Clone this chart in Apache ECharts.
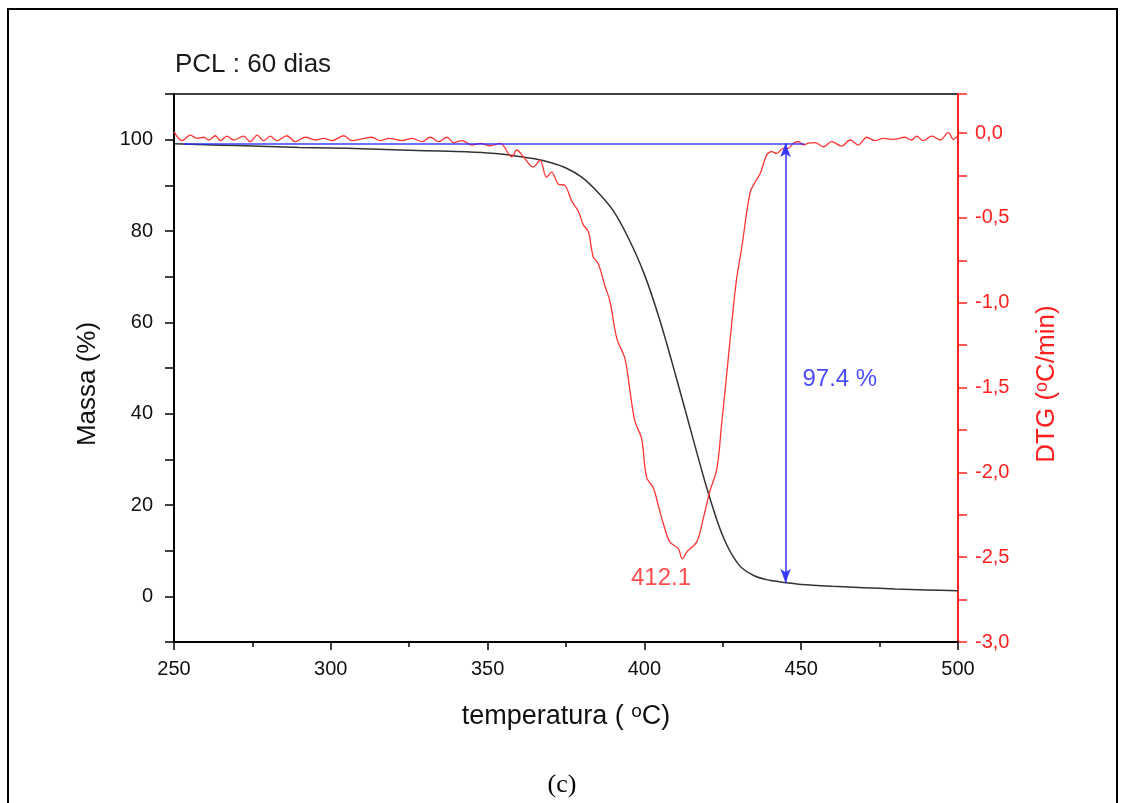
<!DOCTYPE html>
<html>
<head>
<meta charset="utf-8">
<script src="https://cdn.jsdelivr.net/npm/echarts@6/dist/echarts.min.js"></script>
<style>
html,body{margin:0;padding:0;background:#fff;}
#c{width:1124px;height:803px;}
</style>
</head>
<body>
<div id="c"></div>
<script>
// ---- data ----
const titleText = 'PCL : 60 dias';
const captionText = '(c)';
// TG curve (mass %) vs temperature
const massT = [250,260,270,280,290,300,310,320,330,340,350,355,360,365,370,375,380,385,390,395,400,405,410,415,420,425,430,435,440,445,450,460,470,480,490,500];
const massV = [99.1,98.9,98.7,98.5,98.3,98.2,98.0,97.8,97.6,97.4,97.1,96.8,96.3,95.8,95.0,93.8,91.8,88.6,84.5,78.3,70.5,60.3,48.3,35.8,23.5,13.2,7.0,4.5,3.5,3.0,2.6,2.2,1.9,1.6,1.4,1.2];
// DTG curve vs temperature
const dtgT = [250,252.6,255.2,257.3,259.5,261.1,263.2,264.8,266.9,269.0,272.2,274.3,276.5,278.6,280.7,282.8,286.0,288.7,291.9,295.1,297.7,300.4,304.1,306.8,310.0,313.1,315.8,318.5,322.7,325.9,329.1,331.7,334.4,337.0,339.2,341.8,345.0,347.7,350.8,354.0,357.7,359.3,361.4,364.6,366.7,368.8,370.4,372.5,374.7,376.8,378.9,380.5,382.1,383.7,385.3,387.4,389.0,391.2,393.8,395.4,397.0,399.1,400.7,402.8,404.5,406.0,408.1,410.8,412.1,413.5,416.7,418.8,420.9,423.1,424.6,426.2,427.8,429.4,431.0,433.7,435.3,436.9,439.0,440.6,442.2,444.3,445.9,447.5,449.1,450.7,452.3,454.4,457.1,459.7,462.9,465.6,468.2,470.9,473.5,476.2,479.4,483.1,485.2,486.8,488.9,491.6,494.3,496.9,498.5,500];
const dtgV = [0.008,-0.045,-0.012,-0.031,-0.025,-0.041,-0.016,-0.045,-0.018,-0.041,-0.018,-0.051,-0.012,-0.045,-0.018,-0.045,-0.016,-0.051,-0.025,-0.041,-0.031,-0.045,-0.016,-0.045,-0.035,-0.025,-0.045,-0.031,-0.045,-0.031,-0.051,-0.025,-0.051,-0.025,-0.057,-0.045,-0.071,-0.061,-0.075,-0.061,-0.14,-0.10,-0.14,-0.20,-0.16,-0.26,-0.23,-0.30,-0.31,-0.40,-0.46,-0.54,-0.58,-0.73,-0.77,-0.90,-0.99,-1.21,-1.33,-1.52,-1.70,-1.80,-2.03,-2.09,-2.20,-2.30,-2.41,-2.45,-2.51,-2.47,-2.41,-2.27,-2.11,-1.98,-1.72,-1.43,-1.13,-0.86,-0.68,-0.35,-0.29,-0.24,-0.13,-0.11,-0.12,-0.09,-0.09,-0.06,-0.05,-0.07,-0.06,-0.057,-0.081,-0.051,-0.077,-0.041,-0.071,-0.025,-0.045,-0.031,-0.037,-0.025,-0.041,-0.018,-0.045,-0.018,-0.041,0.002,-0.037,-0.012];
// mass loss annotation
const lossTop = 99.2, lossBottom = 3.0, lossT = 445, baseStartT = 253, baseEndT = 451;
const lossLabel = '97.4 %', lossLabelPos = [450.4, 47.5];
const peakLabel = '412.1', peakLabelPos = [405.3, 4.0];
// axes
const xMin = 250, xMax = 500, xStep = 50;
const yMin = -10, yMax = 110, yStep = 10;
const y2Min = -3, y2Max = 0.23, y2Step = 0.25;

const massData = massT.map((t, i) => [t, massV[i]]);
const dtgData = dtgT.map((t, i) => [t, dtgV[i]]);

const FONT = '"Liberation Sans", Arial, sans-serif';
const RED = '#ff1f1f';
const chart = echarts.init(document.getElementById('c'), null, {renderer: 'canvas'});

chart.setOption({
  backgroundColor: '#fff',
  animation: false,
  title: {
    text: titleText, left: 170, top: 47,
    textStyle: {fontFamily: FONT, fontSize: 26, fontWeight: 'normal', color: '#1a1a1a'}
  },
  graphic: [
    {type: 'rect', shape: {x: 8, y: 9, width: 1109, height: 820}, style: {fill: 'none', stroke: '#000', lineWidth: 2}, silent: true},
    {type: 'text', left: 'center', top: 772, style: {text: captionText, font: '26px "Liberation Serif", "Times New Roman", serif', fill: '#000'}}
  ],
  grid: {left: 174, right: 166, top: 94, bottom: 161, show: true, borderColor: '#000', borderWidth: 1.5, backgroundColor: 'transparent'},
  xAxis: {
    type: 'value', min: xMin, max: xMax, interval: xStep,
    name: 'temperatura ( {s|o}C)', nameLocation: 'middle', nameGap: 60,
    nameTextStyle: {fontFamily: FONT, fontSize: 27, color: '#111',
      rich: {s: {fontFamily: FONT, fontSize: 19, color: '#111', verticalAlign: 'top', padding: [0, 0, 10, 0]}}},
    axisLine: {onZero: false, lineStyle: {color: '#000', width: 2}},
    axisTick: {length: 8, inside: false, lineStyle: {color: '#000', width: 1.5}},
    minorTick: {show: true, splitNumber: 2, length: 5, lineStyle: {color: '#000', width: 1.5}},
    axisLabel: {fontFamily: FONT, fontSize: 20, color: '#111', margin: 17},
    splitLine: {show: false}
  },
  yAxis: [
    {
      type: 'value', min: yMin, max: yMax, interval: yStep, position: 'left',
      name: 'Massa (%)', nameLocation: 'middle', nameGap: 73, nameRotate: 90,
      nameTextStyle: {fontFamily: FONT, fontSize: 26, color: '#111', padding: [0, 32, 0, 0]},
      axisLine: {show: true, onZero: false, lineStyle: {color: '#000', width: 2}},
      axisTick: {show: true, length: 9, lineStyle: {color: '#000', width: 1.5}},
      axisLabel: {fontFamily: FONT, fontSize: 20, color: '#111', margin: 21,
        formatter: v => (Math.abs(v % 20) < 1e-6 ? String(v) : '')},
      splitLine: {show: false}
    },
    {
      type: 'value', min: y2Min, max: y2Max, interval: y2Step, position: 'right',
      name: 'DTG ({s|o}C/min)', nameLocation: 'middle', nameGap: 75, nameRotate: 90,
      nameTextStyle: {fontFamily: FONT, fontSize: 26, color: RED, padding: [0, 32, 0, 0],
        rich: {s: {fontFamily: FONT, fontSize: 18, color: RED, verticalAlign: 'top', padding: [0, 0, 10, 0]}}},
      axisLine: {show: true, onZero: false, lineStyle: {color: RED, width: 2}},
      axisTick: {show: true, length: 9, lineStyle: {color: RED, width: 1.5}},
      axisLabel: {fontFamily: FONT, fontSize: 20, color: RED, margin: 17,
        formatter: v => {
          const r = Math.round(v * 2) / 2;
          if (Math.abs(v - r) > 1e-6) return '';
          const s = Math.abs(r).toFixed(1).replace('.', ',');
          return (r < 0 ? '-' : '') + s;
        }},
      splitLine: {show: false}
    }
  ],
  series: [
    {
      type: 'line', name: 'DTG', yAxisIndex: 1, data: dtgData, showSymbol: false, smooth: 0.35,
      lineStyle: {color: '#ff3535', width: 1.3}, z: 3
    },
    {
      type: 'line', name: 'Massa', yAxisIndex: 0, data: massData, showSymbol: false, smooth: 0.3,
      lineStyle: {color: '#333', width: 1.5}, z: 2,
      markLine: {
        silent: true, symbol: ['none', 'none'], animation: false,
        label: {show: false},
        lineStyle: {color: '#2b2bff', width: 1.6, type: 'solid', opacity: 0.9},
        data: [
          [{coord: [baseStartT, lossTop]}, {coord: [baseEndT, lossTop]}],
          [{coord: [lossT, lossTop], symbol: 'arrow', symbolSize: [8, 14]}, {coord: [lossT, lossBottom], symbol: 'arrow', symbolSize: [8, 14]}]
        ]
      }
    },
    {
      type: 'scatter', yAxisIndex: 0, symbolSize: 0, silent: true, z: 5,
      data: [{value: lossLabelPos, name: lossLabel}],
      label: {show: true, position: 'right', distance: 0, formatter: '{b}', fontFamily: FONT, fontSize: 24, color: '#1a1aff'}
    },
    {
      type: 'scatter', yAxisIndex: 0, symbolSize: 0, silent: true, z: 5,
      data: [{value: peakLabelPos, name: peakLabel}],
      label: {show: true, position: 'inside', formatter: '{b}', fontFamily: FONT, fontSize: 24, color: RED}
    }
  ]
});
</script>
</body>
</html>
